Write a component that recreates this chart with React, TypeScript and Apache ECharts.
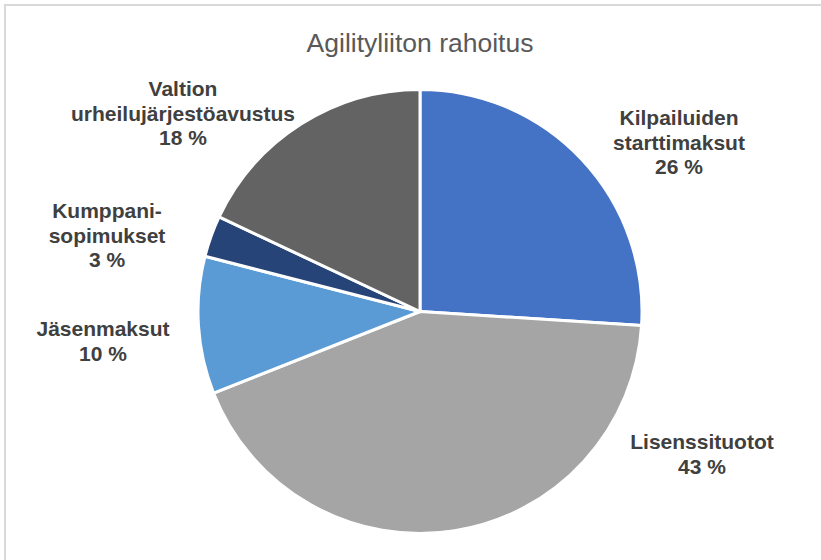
import React, { useEffect, useRef } from "react";
import * as echarts from "echarts";

const titleText = "Agilityliiton rahoitus";
const categories = [
  "Kilpailuiden\nstarttimaksut",
  "Lisenssituotot",
  "Jäsenmaksut",
  "Kumppani-\nsopimukset",
  "Valtion\nurheilujärjestöavustus",
];
const values = [26, 43, 10, 3, 18];
const colors = ["#4472C4", "#A5A5A5", "#5B9BD5", "#264478", "#636363"];
const labelCenters: [number, number][] = [
  [679, 142],
  [702, 454],
  [103, 341],
  [107, 235],
  [183, 113],
];

export default function App() {
  const ref = useRef<HTMLDivElement>(null);
  useEffect(() => {
    if (!ref.current) return;
    const chart = echarts.init(ref.current, undefined, { renderer: "svg" });
    chart.setOption({
      animation: false,
      backgroundColor: "#ffffff",
      title: {
        text: titleText,
        left: 420,
        textAlign: "center",
        top: 27,
        padding: 0,
        textStyle: {
          fontFamily: "Liberation Sans, Arial, sans-serif",
          fontSize: 26.5,
          fontWeight: "normal",
          color: "#595959",
          lineHeight: 32,
        },
      },
      graphic: [
        {
          type: "rect",
          shape: { x: 5, y: 5, width: 900, height: 700 },
          style: { fill: "none", stroke: "#d9d9d9", lineWidth: 2 },
          silent: true,
          z: -10,
        },
      ],
      series: [
        {
          type: "pie",
          center: [420, 311.5],
          radius: 222,
          startAngle: 90,
          clockwise: true,
          data: categories.map((c, i) => ({
            name: c,
            value: values[i],
            itemStyle: { color: colors[i] },
          })),
          itemStyle: { borderColor: "#ffffff", borderWidth: 3 },
          label: {
            show: true,
            position: "outside",
            formatter: "{b}\n{c} %",
            fontFamily: "Liberation Sans, Arial, sans-serif",
            fontSize: 21,
            fontWeight: "bold",
            color: "#404040",
            lineHeight: 24.5,
            align: "center",
          },
          labelLine: { show: false },
          labelLayout: (params: any) => ({
            x: labelCenters[params.dataIndex][0],
            y: labelCenters[params.dataIndex][1],
            align: "center",
            verticalAlign: "middle",
          }),
          emphasis: { disabled: true },
        },
      ],
    });
    return () => chart.dispose();
  }, []);
  return (
    <div
      ref={ref}
      style={{ position: "fixed", left: 0, top: 0, width: 821, height: 560 }}
    />
  );
}
